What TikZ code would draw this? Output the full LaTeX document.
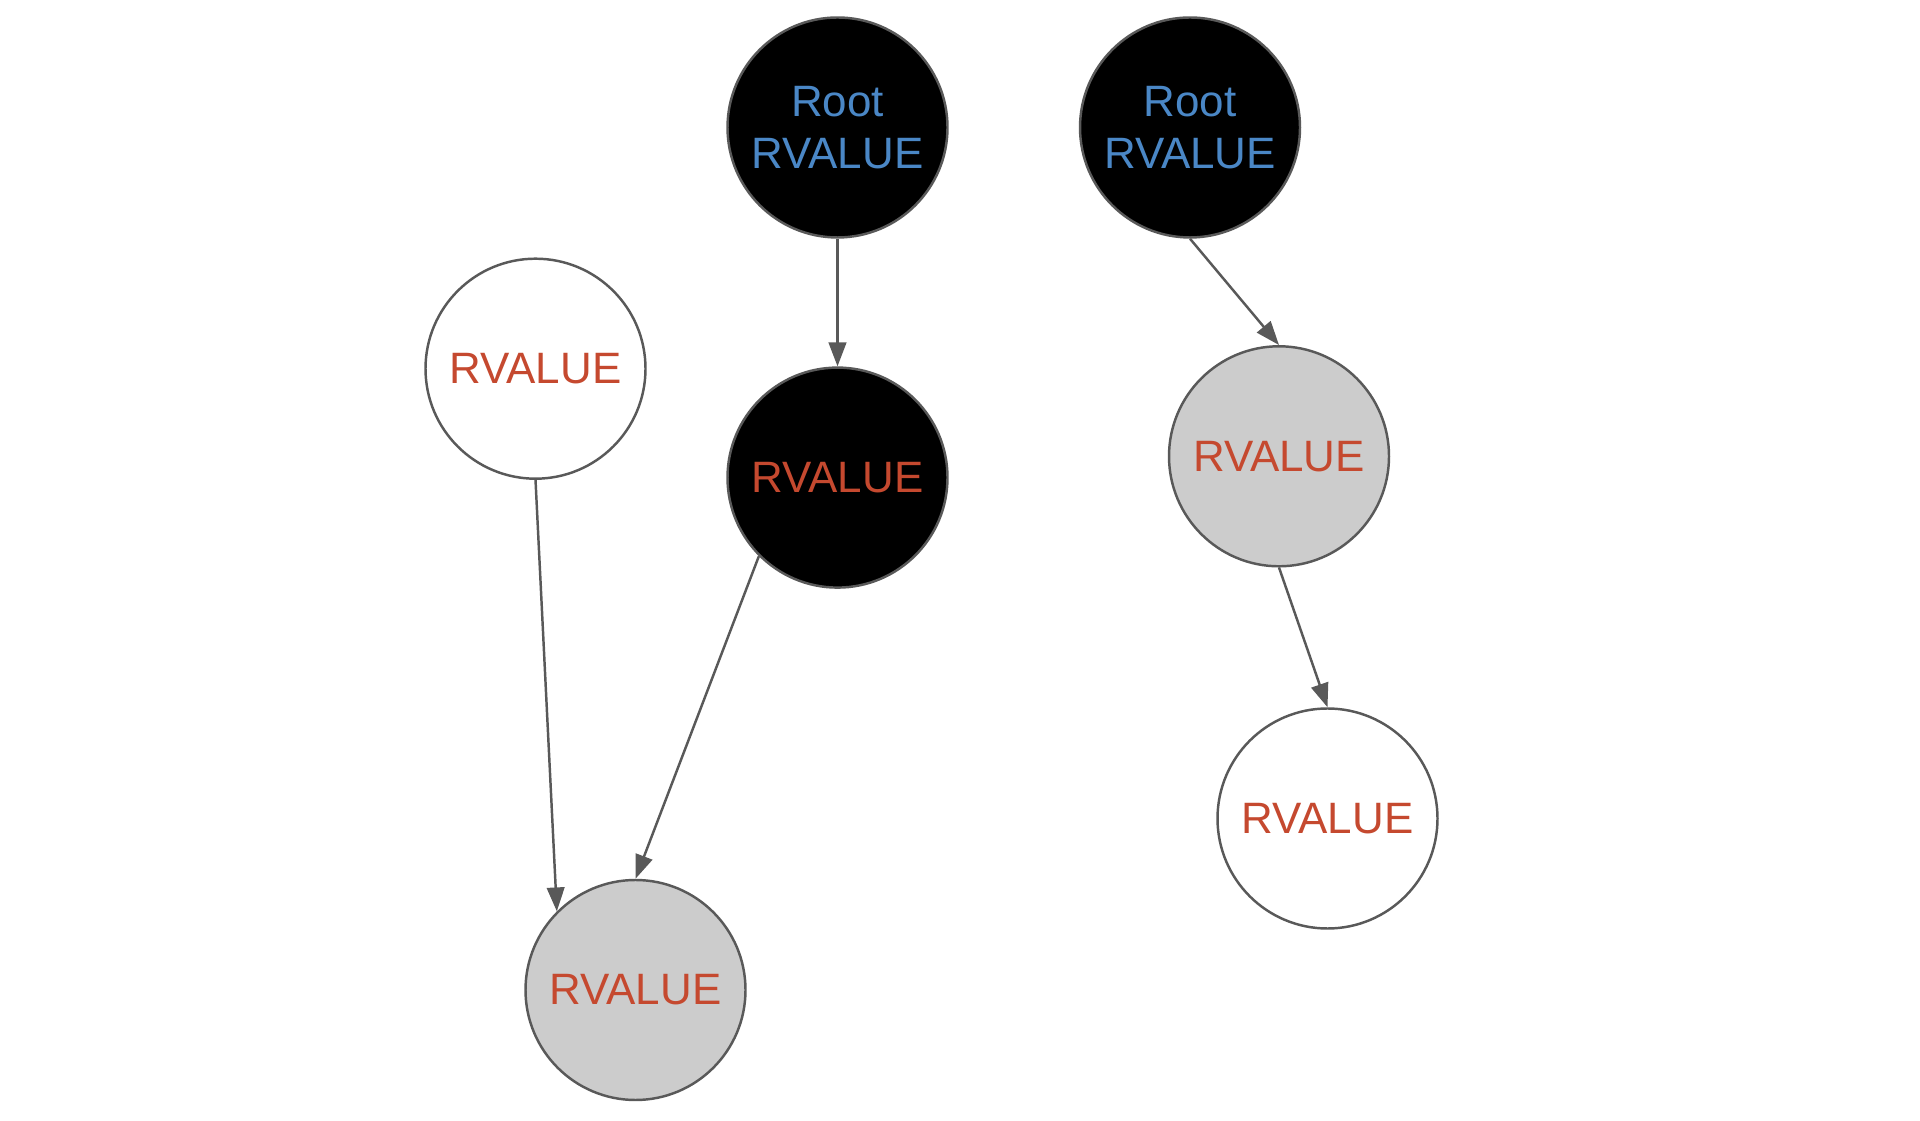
\documentclass[tikz,border=0pt]{standalone}
\usepackage{xcolor}
\usepackage{fontspec}
\setmainfont{Liberation Sans}
\usetikzlibrary{arrows.meta}

\definecolor{rootblue}{RGB}{74,135,198}
\definecolor{valred}{RGB}{197,73,47}
\definecolor{edgegray}{RGB}{89,89,89}
\definecolor{fillgray}{RGB}{204,204,204}

\tikzset{
    valnode/.style={circle, draw=edgegray, line width=0.7pt, minimum size=2.2cm,
        inner sep=0pt, align=center, text=valred,
        font=\fontsize{12.5}{15}\selectfont},
    rootnode/.style={valnode, fill=black, text=rootblue},
    darknode/.style={valnode, fill=black},
    graynode/.style={valnode, fill=fillgray},
    whitenode/.style={valnode, fill=white},
    link/.style={->, draw=edgegray, line width=0.7pt}
}

\begin{document}
\begin{tikzpicture}[>={Triangle[length=6.8pt,width=5pt]}]

    \useasboundingbox (0,0) rectangle (19.2,11.2);

    % left tree
    \node[rootnode]  (rootA) at (8.375,9.925) {Root\\RVALUE};
    \node[darknode]  (midA)  at (8.375,6.424) {RVALUE};
    \node[whitenode] (sideA) at (5.355,7.513) {RVALUE};
    \node[graynode]  (leafA) at (6.355,1.300) {RVALUE};

    % right tree
    \node[rootnode]  (rootB) at (11.90,9.925) {Root\\RVALUE};
    \node[graynode]  (midB)  at (12.79,6.637) {RVALUE};
    \node[whitenode] (leafB) at (13.275,3.015) {RVALUE};

    \draw[link] (rootA.south) -- (midA.north);
    \draw[link] (midA.south west) -- (leafA.north);
    \draw[link] (sideA.south) -- (leafA.north west);

    \draw[link] (rootB.south) -- (midB.north);
    \draw[link] (midB.south) -- (leafB.north);

\end{tikzpicture}
\end{document}
